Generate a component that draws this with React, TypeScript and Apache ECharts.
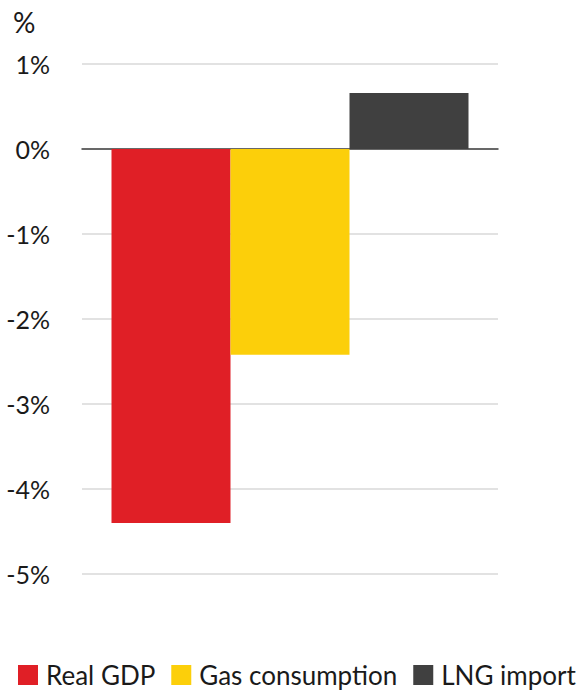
import React, { useEffect, useRef } from "react";
import * as echarts from "echarts";

const seriesNames = ["Real GDP", "Gas consumption", "LNG import"];
const seriesValues = [-4.4, -2.42, 0.66];
const seriesColors = ["#E01F26", "#FCCF0A", "#404040"];
const yMin = -5;
const yMax = 1;
const yInterval = 1;

export default function App() {
  const ref = useRef<HTMLDivElement>(null);
  useEffect(() => {
    if (!ref.current) return;
    const chart = echarts.init(ref.current, null, { renderer: "svg" });
    const font = "Lato, 'Noto Sans', sans-serif";
    chart.setOption({
      animation: false,
      textStyle: { fontFamily: font },
      title: {
        text: "%",
        left: 13,
        top: 8,
        padding: 0,
        textStyle: { fontSize: 28, fontWeight: "normal", color: "#1a1a1a", fontFamily: font },
      },
      grid: { left: 82, right: 84, top: 64, bottom: 117 },
      legend: {
        left: 18,
        top: 662,
        padding: 0,
        icon: "rect",
        itemWidth: 20,
        itemHeight: 20,
        itemGap: 16,
        textStyle: { fontSize: 26, lineHeight: 26, color: "#1a1a1a", fontFamily: font, padding: [0, 0, 0, 3] },
        data: seriesNames,
      },
      xAxis: {
        type: "category",
        data: [""],
        axisLine: { show: true, onZero: true, lineStyle: { color: "#404040", width: 1.5 } },
        axisTick: { show: false },
        axisLabel: { show: false },
      },
      yAxis: {
        type: "value",
        min: yMin,
        max: yMax,
        interval: yInterval,
        axisLine: { show: false },
        axisTick: { show: false },
        splitLine: { lineStyle: { color: "#d9d9d9", width: 1.5 } },
        axisLabel: {
          formatter: (v: number) => `${v}%`,
          fontSize: 25,
          color: "#1a1a1a",
          margin: 32,
          fontFamily: font,
        },
      },
      series: seriesNames.map((name, i) => ({
        name,
        type: "bar",
        barWidth: 119,
        barGap: "0%",
        itemStyle: { color: seriesColors[i] },
        data: [seriesValues[i]],
        z: 1,
      })),
    });
    return () => chart.dispose();
  }, []);
  return <div ref={ref} style={{ width: 582, height: 691, position: "absolute", left: 0, top: 0 }} />;
}
